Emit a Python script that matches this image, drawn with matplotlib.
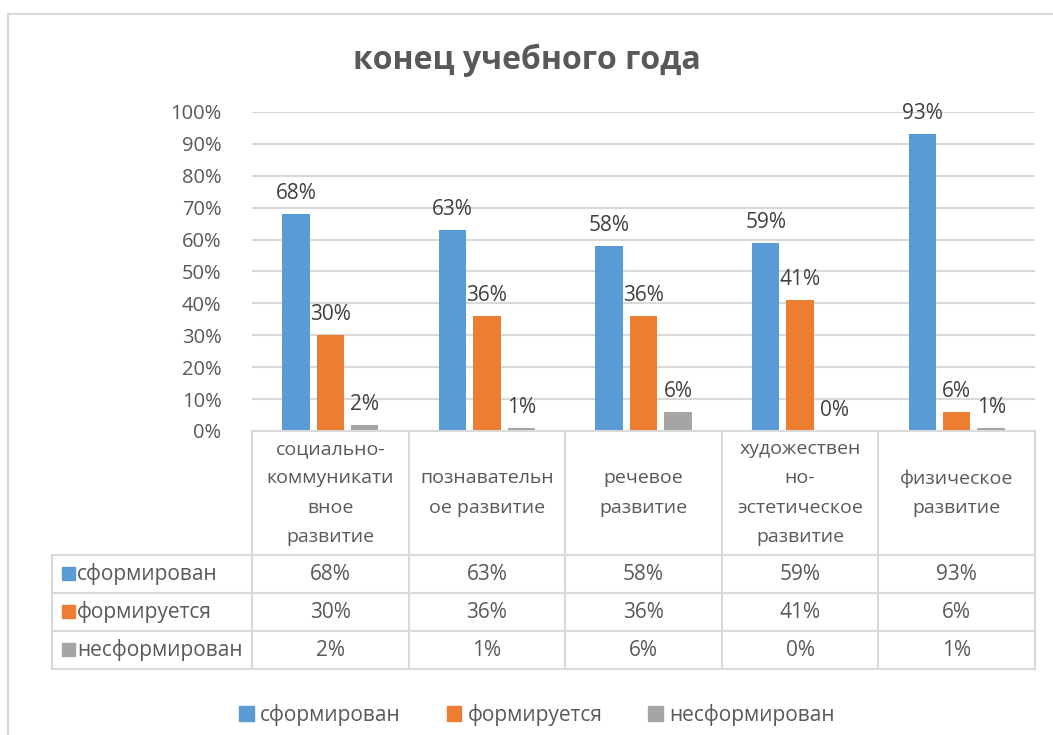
import matplotlib.pyplot as plt
from matplotlib.patches import Rectangle, Patch
import numpy as np

plt.rcParams['font.family'] = ['Open Sans', 'DejaVu Sans']

title = "конец учебного года"
categories = [
    "социально-\nкоммуникати\nвное\nразвитие",
    "познавательн\nое развитие",
    "речевое\nразвитие",
    "художествен\nно-\nэстетическое\nразвитие",
    "физическое\nразвитие",
]
series_names = ["сформирован", "формируется", "несформирован"]
formed = [68, 63, 58, 59, 93]
forming = [30, 36, 36, 41, 6]
not_formed = [2, 1, 6, 0, 1]
yticks = [0, 10, 20, 30, 40, 50, 60, 70, 80, 90, 100]

colors = ["#5B9BD5", "#ED7D31", "#A5A5A5"]
grid_c = "#D9D9D9"
text_c = "#595959"

W, H = 1053, 735
fig = plt.figure(figsize=(W / 100, H / 100), dpi=100)


def fx(px):
    return px / W


def fy(py):
    return 1 - py / H


# outer chart border (only top and left visible)
fig.add_artist(Rectangle((fx(8), -0.1), 1.2, fy(14) + 0.1, transform=fig.transFigure,
                         fill=False, edgecolor=grid_c, lw=1.5))

x0, x1 = 252, 1035
ytop, ybot = 112, 431
ax = fig.add_axes([fx(x0), fy(ybot), fx(x1 - x0), (ybot - ytop) / H])
ax.set_xlim(-0.5, 4.5)
ax.set_ylim(0, 100)

x = np.arange(len(categories))
data = [formed, forming, not_formed]
offs = [-0.22, 0, 0.22]
for vals, off, col in zip(data, offs, colors):
    bars = ax.bar(x + off, vals, width=0.175, color=col, zorder=3)
    for b, v in zip(bars, vals):
        ax.annotate(f"{v}%", (b.get_x() + b.get_width() / 2, v), xytext=(0, 10),
                    textcoords="offset pixels", ha="center", va="bottom",
                    fontsize=15, color="#404040")

ax.set_yticks(yticks)
ax.set_yticklabels([f"{t}%" for t in yticks], fontsize=14.5, color=text_c)
ax.tick_params(axis="y", length=0, pad=22)
ax.set_xticks([])
ax.yaxis.grid(True, color=grid_c, lw=1.5, zorder=0)
for s in ax.spines.values():
    s.set_visible(False)

# data table below the plot
lab_left = 52
unit = (x1 - x0) / 5
tx_left = -0.5 - (x0 - lab_left) / unit
row_y = [0, 124, 162, 200, 238]
tax = fig.add_axes([fx(lab_left), fy(431 + 238), fx(x1 - lab_left), 238 / H])
tax.set_xlim(tx_left, 4.5)
tax.set_ylim(238, 0)
tax.axis("off")

lw = 1.5
for xv in np.arange(-0.5, 5, 1):
    tax.plot([xv, xv], [0, 238], color=grid_c, lw=lw, clip_on=False)
tax.plot([tx_left, tx_left], [124, 238], color=grid_c, lw=lw, clip_on=False)
tax.plot([-0.5, 4.5], [0, 0], color=grid_c, lw=lw, clip_on=False)
for yv in row_y[1:]:
    tax.plot([tx_left, 4.5], [yv, yv], color=grid_c, lw=lw, clip_on=False)

for i, c in enumerate(categories):
    tax.text(i, 62, c, ha="center", va="center", fontsize=14, color=text_c,
             linespacing=1.8)

sq = 13 / unit
for r, (name, vals, col) in enumerate(zip(series_names, data, colors)):
    yc = (row_y[r + 1] + row_y[r + 2]) / 2
    tax.add_patch(Rectangle((tx_left + 10 / unit, yc - 7), sq, 13, color=col,
                            clip_on=False))
    tax.text(tx_left + 25 / unit, yc, name, ha="left", va="center", fontsize=15,
             color=text_c)
    for i, v in enumerate(vals):
        tax.text(i, yc, f"{v}%", ha="center", va="center", fontsize=15, color=text_c)

fig.text(0.5, fy(60), title, ha="center", va="center", fontsize=23,
         fontweight="bold", color=text_c)

handles = [Patch(color=c) for c in colors]
fig.legend(handles, series_names, loc="center", bbox_to_anchor=(0.51, fy(715)),
           ncol=3, frameon=False, fontsize=15, handlelength=0.7, handleheight=0.7,
           handletextpad=0.3, columnspacing=2.2, labelcolor=text_c)

fig.savefig("out.png", dpi=100)
